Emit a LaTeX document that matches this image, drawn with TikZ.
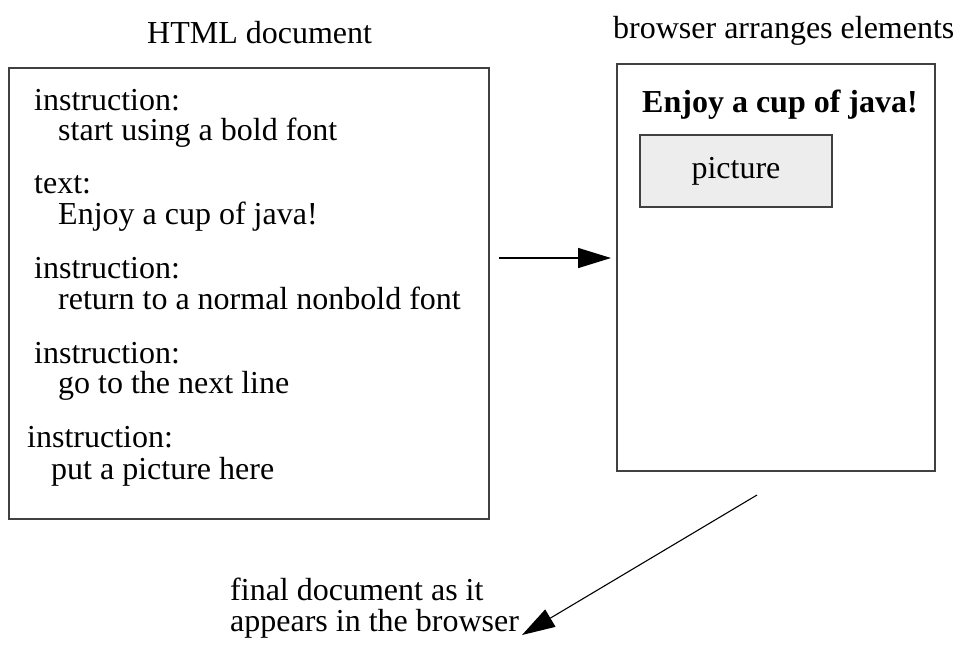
\documentclass[tikz,border=0pt]{standalone}
\usepackage{fontspec}
\setmainfont{Liberation Serif}
\usetikzlibrary{arrows.meta}
\begin{document}
\begin{tikzpicture}[x=1pt,y=-1pt,
  txt/.style={anchor=base west,inner sep=0pt,font=\fontsize{32}{31}\selectfont},
  frame/.style={draw=black!75,line width=1.4pt,inner sep=0pt},
  arr/.style={line width=1.5pt,-{Triangle[length=33pt,width=20pt]}},
  darr/.style={line width=1.1pt,-{Triangle[length=33pt,width=20pt]}}]
\useasboundingbox (0,0) rectangle (960,662);
% titles
\node[txt] (t1) at (147,43) {HTML document};
\node[txt] (t2) at (613,38) {browser arranges elements};
% left box
\node[frame,minimum width=480pt,minimum height=451pt] (html) at (249,293.5) {};
\node[txt] (l1) at (34,110) {instruction:};
\node[txt] (l2) at (58,140) {start using a bold font};
\node[txt] (l3) at (34,193) {text:};
\node[txt] (l4) at (58,224) {Enjoy a cup of java!};
\node[txt] (l5) at (34,278) {instruction:};
\node[txt] (l6) at (58,309) {return to a normal nonbold font};
\node[txt] (l7) at (34,363) {instruction:};
\node[txt] (l8) at (58,393) {go to the next line};
\node[txt] (l9) at (27,447) {instruction:};
\node[txt] (l10) at (51,479) {put a picture here};
% right box
\node[frame,minimum width=318pt,minimum height=407pt] (page) at (776,267.5) {};
\node[txt,font=\fontsize{32}{31}\selectfont\bfseries] (b1) at (642,112) {Enjoy a cup of java!};
\node[frame,fill=black!7,minimum width=192pt,minimum height=72pt,font=\fontsize{32}{31}\selectfont] (pic) at (736,171) {picture};
% final label
\node[txt] (f1) at (230,600) {final document as it};
\node[txt] (f2) at (230,631) {appears in the browser};
% arrows
\coordinate (h1) at (499,258);
\coordinate (h2) at (611,258);
\draw[arr] (h1) -- (h2);
\coordinate (d1) at (757,495);
\coordinate (d2) at (522,635);
\draw[darr] (d1) -- (d2);
\end{tikzpicture}
\end{document}
